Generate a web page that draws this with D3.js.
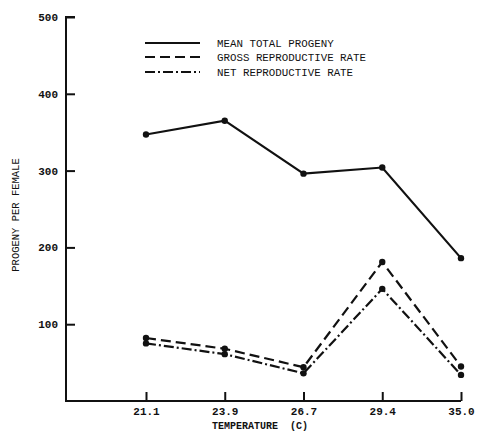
<!DOCTYPE html>
<html>
<head>
<meta charset="utf-8">
<script src="https://cdn.jsdelivr.net/npm/d3@7"></script>
<style>
  body { margin: 0; background: #fff; }
  text { fill: #111; }
</style>
</head>
<body>
<div id="chart"></div>
<script>
// temperature categories (C) and the three series
const temps = ["21.1", "23.9", "26.7", "29.4", "35.0"];
const meanTotal = [347, 365, 296, 304, 186];
const grossRate = [82, 68, 44, 181, 45];
const netRate = [75, 61, 36, 146, 34];
const yTicks = [100, 200, 300, 400, 500];

const seriesNames = ["MEAN TOTAL PROGENY", "GROSS REPRODUCTIVE RATE", "NET REPRODUCTIVE RATE"];
const seriesDash = [null, "10,5", "10,3,2,3"];

const W = 477, H = 434;
const FONT = "'Liberation Mono', 'DejaVu Sans Mono', monospace";

const svg = d3.select("#chart").append("svg")
  .attr("width", W)
  .attr("height", H);

const x = d3.scalePoint().domain(temps).range([146, 461]).padding(0);
const y = d3.scaleLinear().domain([0, 500]).range([401, 17]);
const axisLeftX = 66;

// y axis, ticks point inwards
const yAxis = svg.append("g")
  .attr("transform", `translate(${axisLeftX},0)`)
  .call(d3.axisLeft(y).tickValues(yTicks).tickSize(-9).tickPadding(8));
yAxis.select(".domain").remove();
yAxis.selectAll("line").attr("stroke", "#111").attr("stroke-width", 2);
yAxis.selectAll("text")
  .attr("font-family", FONT)
  .attr("font-size", "11px")
  .attr("font-weight", "bold");

// x axis
const xAxis = svg.append("g")
  .attr("transform", `translate(0,${y(0)})`)
  .call(d3.axisBottom(x).tickSize(-9).tickPadding(6));
xAxis.select(".domain").remove();
xAxis.selectAll("line").attr("stroke", "#111").attr("stroke-width", 2);
xAxis.selectAll("text")
  .attr("font-family", FONT)
  .attr("font-size", "11px")
  .attr("font-weight", "bold");

// axis frame lines (left + bottom)
svg.append("path")
  .attr("d", `M${axisLeftX + 9},${y(500)}H${axisLeftX}V${y(0)}H${x(temps[temps.length - 1])}`)
  .attr("fill", "none")
  .attr("stroke", "#111")
  .attr("stroke-width", 2);

// axis titles
svg.append("text")
  .attr("x", 260)
  .attr("y", 429)
  .attr("text-anchor", "middle")
  .attr("font-family", FONT)
  .attr("font-size", "10px")
  .attr("font-weight", "bold")
  .attr("xml:space", "preserve")
  .text("TEMPERATURE  (C)");

svg.append("text")
  .attr("transform", "translate(19,215) rotate(-90)")
  .attr("text-anchor", "middle")
  .attr("font-family", FONT)
  .attr("font-size", "10.5px")
  .text("PROGENY PER FEMALE");

// lines + dots
const line = d3.line()
  .x(d => x(d.t))
  .y(d => y(d.v));

const allSeries = [meanTotal, grossRate, netRate];
allSeries.forEach(function(vals, i) {
  const pts = temps.map((t, j) => ({t: t, v: vals[j]}));
  svg.append("path")
    .datum(pts)
    .attr("d", line)
    .attr("fill", "none")
    .attr("stroke", "#111")
    .attr("stroke-width", 2.2)
    .attr("stroke-dasharray", seriesDash[i]);

  svg.append("g").selectAll("circle")
    .data(pts)
    .join("circle")
    .attr("cx", d => x(d.t))
    .attr("cy", d => y(d.v))
    .attr("r", 3.2)
    .attr("fill", "#111");
});

// legend
const legendY = [43, 57, 72];
const legend = svg.append("g");
seriesNames.forEach(function(name, i) {
  legend.append("line")
    .attr("x1", 145)
    .attr("x2", 200)
    .attr("y1", legendY[i])
    .attr("y2", legendY[i])
    .attr("stroke", "#111")
    .attr("stroke-width", 2.2)
    .attr("stroke-dasharray", seriesDash[i]);
  legend.append("text")
    .attr("x", 217)
    .attr("y", legendY[i] + 4)
    .attr("font-family", FONT)
    .attr("font-size", "10.8px")
    .text(name);
});
</script>
</body>
</html>
